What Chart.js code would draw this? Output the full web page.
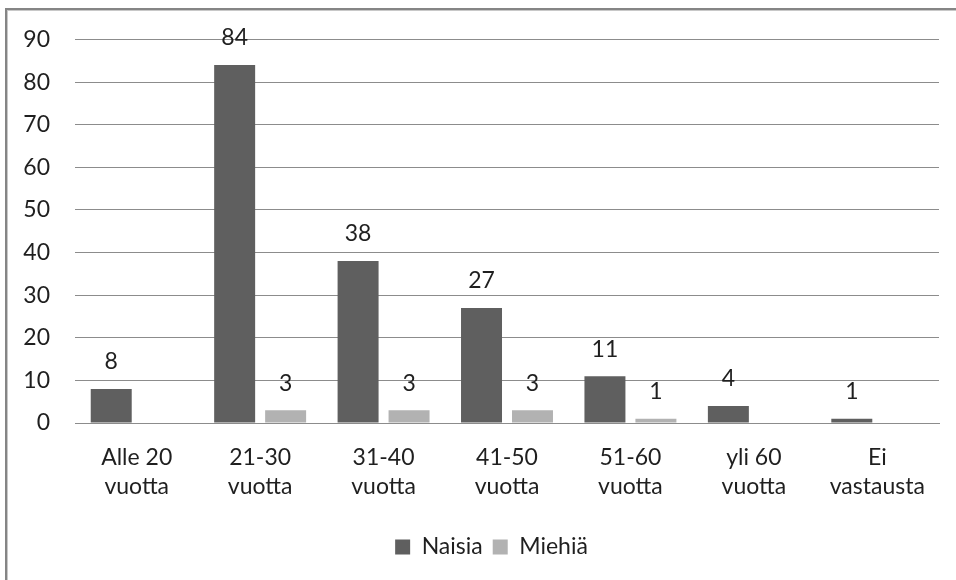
<!DOCTYPE html>
<html>
<head>
<meta charset="utf-8">
<script src="https://cdn.jsdelivr.net/npm/chart.js@4"></script>
<style>
  html, body { margin: 0; padding: 0; background: #ffffff; }
  #wrap { width: 956px; height: 580px; }
</style>
</head>
<body>
<div id="wrap"><canvas id="c" width="956" height="580"></canvas></div>
<script>
// Age groups and respondent counts by gender
const categories = [
  ['Alle 20', 'vuotta'],
  ['21-30', 'vuotta'],
  ['31-40', 'vuotta'],
  ['41-50', 'vuotta'],
  ['51-60', 'vuotta'],
  ['yli 60', 'vuotta'],
  ['Ei', 'vastausta']
];
const naisia = [8, 84, 38, 27, 11, 4, 1];
const miehia = [null, 3, 3, 3, 1, null, null];
const yTicks = [0, 10, 20, 30, 40, 50, 60, 70, 80, 90];

const FONT = { family: 'Lato, "Open Sans", sans-serif', size: 23 };
const TEXT = '#1f1f1f';

// Outer frame around the chart
const framePlugin = {
  id: 'frame',
  beforeDraw(chart) {
    const ctx = chart.ctx;
    ctx.save();
    ctx.fillStyle = '#ffffff';
    ctx.fillRect(0, 0, chart.width, chart.height);
    ctx.fillStyle = '#858585';
    ctx.fillRect(5, 8, chart.width, 2);
    ctx.fillRect(5, 8, 2, chart.height);
    ctx.fillStyle = '#c8c8c8';
    ctx.fillRect(7, 10, chart.width, 1);
    ctx.fillRect(7, 10, 1, chart.height);
    ctx.restore();
  }
};

// Centre the legend a little to the right, under the plot
const legendShift = {
  id: 'legendShift',
  afterLayout(chart) {
    if (chart.legend) {
      chart.legend.left = 44;
      if (chart.legend.adjustHitBoxes) chart.legend.adjustHitBoxes();
    }
  }
};

// Value labels above each bar
const valueLabels = {
  id: 'valueLabels',
  afterDatasetsDraw(chart) {
    const ctx = chart.ctx;
    ctx.save();
    ctx.font = FONT.size + 'px ' + FONT.family;
    ctx.fillStyle = TEXT;
    ctx.textAlign = 'center';
    ctx.textBaseline = 'middle';
    chart.data.datasets.forEach((ds, i) => {
      const meta = chart.getDatasetMeta(i);
      meta.data.forEach((bar, j) => {
        const v = ds.data[j];
        if (v === null || v === undefined) return;
        ctx.fillText(String(v), bar.x, bar.y - 27);
      });
    });
    ctx.restore();
  }
};

new Chart(document.getElementById('c'), {
  type: 'bar',
  data: {
    labels: categories,
    datasets: [
      { label: 'Naisia', data: naisia, backgroundColor: '#5f5f5f',
        categoryPercentage: 0.826, barPercentage: 0.804 },
      { label: 'Miehiä', data: miehia, backgroundColor: '#b2b2b2',
        categoryPercentage: 0.826, barPercentage: 0.804 }
    ]
  },
  options: {
    responsive: false,
    animation: false,
    devicePixelRatio: 1,
    layout: { padding: { top: 39.5, right: 17, bottom: 11.5, left: 0 } },
    scales: {
      x: {
        grid: { display: false, drawTicks: false },
        border: { display: true, color: '#8c8c8c', width: 1 },
        ticks: { color: TEXT, font: { ...FONT, lineHeight: 1.25 }, padding: 20, maxRotation: 0, autoSkip: false },
        afterFit(scale) { scale.height = 102.5; }
      },
      y: {
        min: 0, max: 90,
        afterBuildTicks(scale) { scale.ticks = yTicks.map(v => ({ value: v })); },
        grid: { color: '#8c8c8c', lineWidth: 1, drawTicks: false },
        border: { display: false },
        ticks: { color: TEXT, font: FONT, padding: 25 },
        afterFit(scale) { scale.width = 75; }
      }
    },
    plugins: {
      legend: {
        position: 'bottom',
        labels: { color: TEXT, font: FONT, boxWidth: 15, boxHeight: 15, padding: 10 }
      },
      tooltip: { enabled: false }
    }
  },
  plugins: [framePlugin, legendShift, valueLabels]
});
</script>
</body>
</html>
